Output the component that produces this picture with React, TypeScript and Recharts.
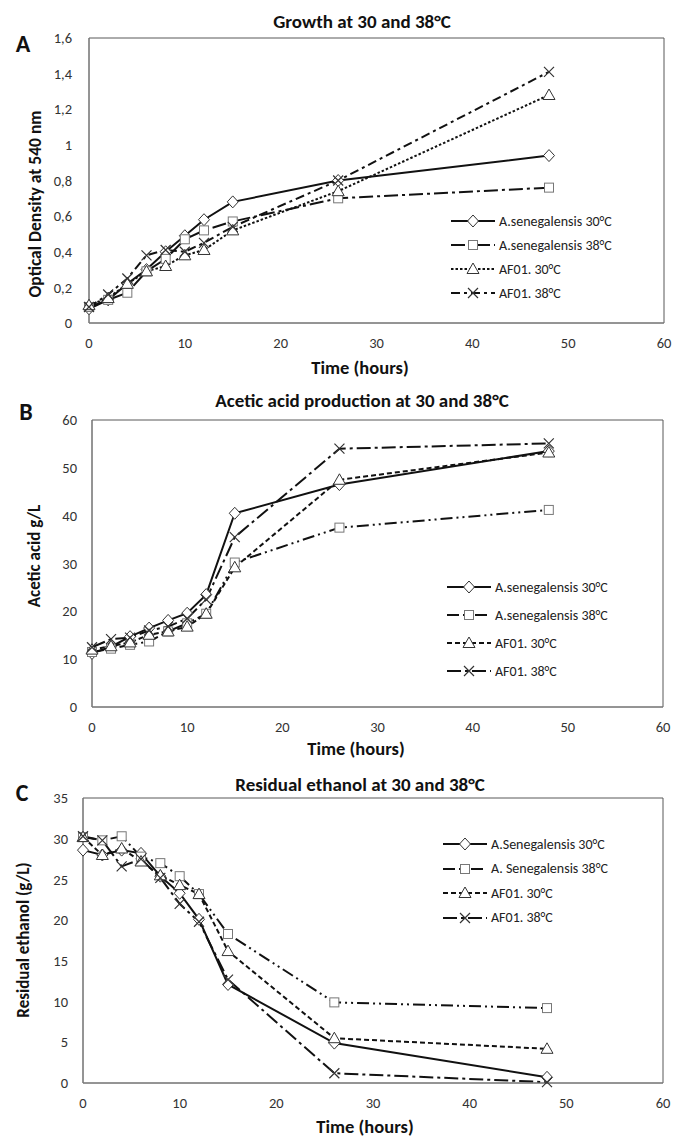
import React from "react";
import { LineChart, Line, XAxis, YAxis, ReferenceArea } from "recharts";

const hours = [0, 2, 4, 6, 8, 10, 12, 15, 26, 48];
const xTicks = [0, 10, 20, 30, 40, 50, 60];

// Panel A: optical density
const growthSen30 = [0.08, 0.13, 0.22, 0.3, 0.4, 0.49, 0.58, 0.68, 0.8, 0.94];
const growthSen38 = [0.09, 0.13, 0.17, 0.29, 0.36, 0.47, 0.52, 0.57, 0.7, 0.76];
const growthAf30 = [0.1, 0.14, 0.22, 0.29, 0.32, 0.38, 0.41, 0.52, 0.74, 1.28];
const growthAf38 = [0.09, 0.16, 0.25, 0.38, 0.41, 0.4, 0.45, 0.54, 0.8, 1.41];
const growthTicks = [0, 0.2, 0.4, 0.6, 0.8, 1, 1.2, 1.4, 1.6];

// Panel B: acetic acid g/L
const acidSen30 = [11.2, 12.6, 14.7, 16.5, 18.1, 19.6, 23.5, 40.5, 46.5, 53.5];
const acidSen38 = [11.5, 12.2, 13.0, 13.7, 15.8, 17.5, 19.5, 30.2, 37.5, 41.2];
const acidAf30 = [12.0, 12.7, 13.5, 15.1, 15.8, 16.8, 19.5, 29.2, 47.5, 53.2];
const acidAf38 = [12.5, 14.2, 14.5, 16.0, 16.8, 18.5, 22.5, 35.5, 54.0, 55.1];
const acidTicks = [0, 10, 20, 30, 40, 50, 60];

// Panel C: residual ethanol g/L
const ethSen30 = [28.6, 28.0, 28.6, 28.2, 25.4, 23.3, 20.1, 12.1, 4.9, 0.7];
const ethSen38 = [30.2, 29.8, 30.3, 27.8, 27.0, 25.4, 23.2, 18.3, 9.9, 9.2];
const ethAf30 = [30.2, 28.0, 28.8, 27.2, 25.5, 24.3, 23.2, 16.2, 5.5, 4.2];
const ethAf38 = [30.3, 29.8, 26.6, 27.5, 25.2, 22.0, 19.8, 12.7, 1.2, 0.1];
const ethTicks = [0, 5, 10, 15, 20, 25, 30, 35];

const labelsAB = ["A.senegalensis 30°C", "A.senegalensis 38°C", "AF01. 30°C", "AF01. 38°C"];
const labelsC = ["A.Senegalensis 30°C", "A. Senegalensis 38°C", "AF01. 30°C", "AF01. 38°C"];

const FONT = "Carlito, Lato, 'Open Sans', sans-serif";
const shapes = ["diamond", "square", "triangle", "cross"];

function Marker({ cx, cy, shape }: { cx: number; cy: number; shape: string }) {
  if (cx == null || cy == null) return null;
  const s = "#333";
  if (shape === "diamond")
    return <path d={`M${cx},${cy - 6}L${cx + 5.5},${cy}L${cx},${cy + 6}L${cx - 5.5},${cy}Z`} fill="#fff" stroke={s} strokeWidth={1} />;
  if (shape === "square")
    return <rect x={cx - 4.5} y={cy - 4.5} width={9} height={9} fill="#fff" stroke="#777" strokeWidth={1} />;
  if (shape === "triangle")
    return <path d={`M${cx},${cy - 6}L${cx + 6},${cy + 4.5}L${cx - 6},${cy + 4.5}Z`} fill="#fff" stroke={s} strokeWidth={1} />;
  return (
    <path d={`M${cx - 5},${cy - 5}L${cx + 5},${cy + 5}M${cx + 5},${cy - 5}L${cx - 5},${cy + 5}`} stroke={s} strokeWidth={1.2} fill="none" />
  );
}

type PanelProps = {
  top: number;
  height: number;
  marginTop: number;
  xAxisHeight: number;
  yAxisWidth: number;
  yTickMargin: number;
  marginRight: number;
  series: number[][];
  dashes: string[];
  yMax: number;
  yTicks: number[];
  comma?: boolean;
};

function Panel(p: PanelProps) {
  const rows = hours.map((h, i) => ({ h, s0: p.series[0][i], s1: p.series[1][i], s2: p.series[2][i], s3: p.series[3][i] }));
  const fmt = (v: number) => (p.comma ? String(v).replace(".", ",") : String(v));
  return (
    <div style={{ position: "absolute", left: 0, top: p.top }}>
      <LineChart
        width={673}
        height={p.height}
        data={rows}
        margin={{ top: p.marginTop, right: p.marginRight, left: 0, bottom: 0 }}
        style={{ fontFamily: FONT }}
      >
        <XAxis
          dataKey="h"
          type="number"
          domain={[0, 60]}
          ticks={xTicks}
          height={p.xAxisHeight}
          stroke="#7f7f7f"
          tickLine={false}
          tickMargin={9}
          tick={{ fill: "#333", fontSize: 14.5 }}
        />
        <YAxis
          type="number"
          domain={[0, p.yMax]}
          ticks={p.yTicks}
          width={p.yAxisWidth}
          stroke="#7f7f7f"
          tickLine={false}
          tickMargin={p.yTickMargin}
          tickFormatter={fmt}
          tick={{ fill: "#333", fontSize: 14.5 }}
        />
        <ReferenceArea x1={0} x2={60} y1={0} y2={p.yMax} fill="none" stroke="#595959" strokeWidth={1} />
        {[0, 1, 2, 3].map((k) => (
          <Line
            key={k}
            dataKey={`s${k}`}
            stroke="#111"
            strokeWidth={2}
            strokeDasharray={p.dashes[k] || undefined}
            isAnimationActive={false}
            dot={(d: any) => <Marker key={`m${k}-${d.index}`} cx={d.cx} cy={d.cy} shape={shapes[k]} />}
            activeDot={false}
          />
        ))}
      </LineChart>
    </div>
  );
}

function Legend({ left, top, gap, labels, dashes }: { left: number; top: number; gap: number; labels: string[]; dashes: string[] }) {
  return (
    <div style={{ position: "absolute", left, top, fontFamily: FONT, fontSize: 14, color: "#222" }}>
      {labels.map((t, k) => (
        <div key={t} style={{ display: "flex", alignItems: "center", height: gap }}>
          <svg width={44} height={14} style={{ marginRight: 4 }}>
            <line x1={0} y1={7} x2={44} y2={7} stroke="#111" strokeWidth={2} strokeDasharray={dashes[k] || undefined} />
            <Marker cx={22} cy={7} shape={shapes[k]} />
          </svg>
          <span>{t}</span>
        </div>
      ))}
    </div>
  );
}

const txt = (s: React.CSSProperties): React.CSSProperties => ({
  position: "absolute",
  fontFamily: FONT,
  fontWeight: 700,
  color: "#111",
  whiteSpace: "nowrap",
  ...s,
});

function Title({ x, y, size, children }: { x: number; y: number; size: number; children: React.ReactNode }) {
  return <div style={txt({ left: x, top: y, fontSize: size, transform: "translate(-50%, -50%)" })}>{children}</div>;
}

function VLabel({ x, y, size, children }: { x: number; y: number; size: number; children: React.ReactNode }) {
  return (
    <div style={txt({ left: x, top: y, fontSize: size, transform: "translate(-50%, -50%) rotate(-90deg)" })}>{children}</div>
  );
}

const dashA = ["", "14 4 3 4", "2.5 2", "9 4 3 4"];
const dashBC = ["", "12 4 2 4 2 4", "5 3", "14 4 3 4"];

export default function App() {
  return (
    <div style={{ position: "absolute", left: 0, top: 0, width: 673, height: 1138, background: "#fff" }}>
      <Panel
        top={0}
        height={375}
        marginTop={38}
        xAxisHeight={52}
        yAxisWidth={89}
        yTickMargin={11}
        marginRight={9}
        series={[growthSen30, growthSen38, growthAf30, growthAf38]}
        dashes={dashA}
        yMax={1.6}
        yTicks={growthTicks}
        comma
      />
      <Panel
        top={375}
        height={370}
        marginTop={45}
        xAxisHeight={38}
        yAxisWidth={92}
        yTickMargin={9}
        marginRight={10}
        series={[acidSen30, acidSen38, acidAf30, acidAf38]}
        dashes={dashBC}
        yMax={60}
        yTicks={acidTicks}
      />
      <Panel
        top={745}
        height={393}
        marginTop={53}
        xAxisHeight={55}
        yAxisWidth={83}
        yTickMargin={9}
        marginRight={10}
        series={[ethSen30, ethSen38, ethAf30, ethAf38]}
        dashes={dashBC}
        yMax={35}
        yTicks={ethTicks}
      />

      <Legend left={451} top={209} gap={24} labels={labelsAB} dashes={dashA} />
      <Legend left={447} top={573} gap={28} labels={labelsAB} dashes={dashBC} />
      <Legend left={443} top={832} gap={24.5} labels={labelsC} dashes={dashBC} />

      <Title x={23} y={43} size={24}>A</Title>
      <Title x={26} y={411} size={24}>B</Title>
      <Title x={22} y={792} size={24}>C</Title>

      <Title x={362} y={21} size={19}>Growth at 30 and 38°C</Title>
      <Title x={362} y={400} size={19}>Acetic acid production at 30 and 38°C</Title>
      <Title x={360} y={784} size={19}>Residual ethanol at 30 and 38°C</Title>

      <Title x={360} y={367} size={18.5}>Time (hours)</Title>
      <Title x={356} y={748} size={18.5}>Time (hours)</Title>
      <Title x={365} y={1126} size={18.5}>Time (hours)</Title>

      <VLabel x={35} y={204} size={17.5}>Optical Density at 540 nm</VLabel>
      <VLabel x={34} y={556} size={17}>Acetic acid g/L</VLabel>
      <VLabel x={23} y={940} size={17}>Residual ethanol (g/L)</VLabel>
    </div>
  );
}
